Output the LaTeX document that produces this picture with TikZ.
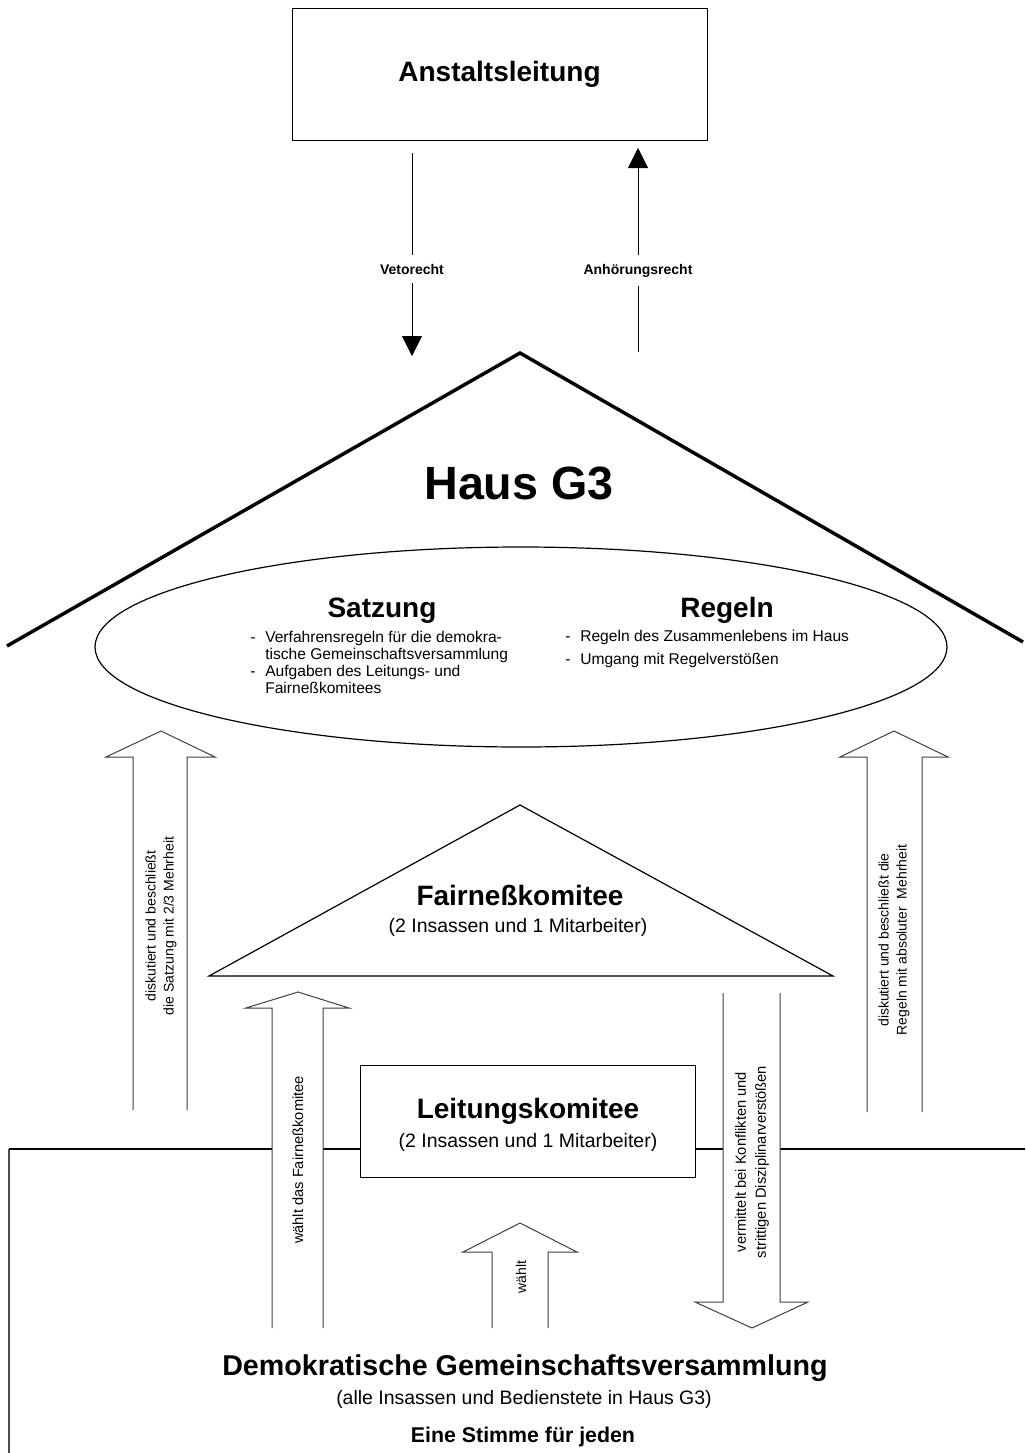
\documentclass[tikz,border=0pt]{standalone}
\usepackage{fontspec}
\setmainfont{Liberation Sans}
\usetikzlibrary{shapes.geometric,arrows.meta}
\begin{document}
\begin{tikzpicture}[x=0.75pt,y=-0.75pt,
  ttl/.style={font=\fontsize{21}{25}\selectfont\bfseries, inner sep=0},
  sub/.style={font=\fontsize{14.6}{17}\selectfont, inner sep=0},
  lst/.style={font=\fontsize{11.7}{12.75}\selectfont, inner sep=0, anchor=north west},
  vtx/.style={font=\fontsize{10.5}{13.5}\selectfont, rotate=90, align=center, inner sep=0},
  lab/.style={font=\fontsize{10.5}{12}\selectfont\bfseries, fill=white, inner xsep=2pt, inner ysep=6.5pt, anchor=base},
  thinline/.style={line width=0.75pt},
  thinarrow/.style={line width=0.75pt, -{Triangle[width=15pt,length=15pt]}},
  hollow/.style={draw=black!75, line width=0.75pt, line join=miter},
  boxnode/.style={draw, line width=0.75pt, fill=white, inner sep=0}
]
\useasboundingbox (0,0) rectangle (1025,1453);
\fill[white] (0,0) rectangle (1025,1453);

% Anstaltsleitung
\node[boxnode, minimum width=311.25pt, minimum height=99pt, font=\fontsize{21}{25}\selectfont\bfseries] (al) at (499.5,74) {Anstaltsleitung};

% Vetorecht / Anhoerungsrecht
\coordinate (v1) at (412,153);
\coordinate (v2) at (412,356);
\node[lab] (vl) at (412,274) {Vetorecht};
\draw[thinline] (v1) -- (vl);
\draw[thinarrow] (vl) -- (v2);
\coordinate (a1) at (638,352);
\coordinate (a2) at (638,148);
\node[lab] (alab) at (638,274) {Anhörungsrecht};
\draw[thinline] (a1) -- (alab);
\draw[thinarrow] (alab) -- (a2);

% Roof
\coordinate (rl) at (7,646);
\coordinate (ra) at (520,353);
\coordinate (rr) at (1023,642);
\draw[line width=2.6pt, line join=miter] (rl) -- (ra) -- (rr);
\node[font=\fontsize{35}{40}\selectfont\bfseries, inner sep=0, anchor=base] (haus) at (519,499) {Haus G3};

% Ellipse
\node[draw, ellipse, line width=0.9pt, minimum width=639pt, minimum height=150pt, inner sep=0] (el) at (521,647) {};
\node[ttl, anchor=base] (satz) at (382,617) {Satzung};
\node[lst] (satzl) at (250,630) {\begin{tabular}{@{}l@{}}
\makebox[11.25pt][l]{-}Verfahrensregeln für die demokra-\\
\makebox[11.25pt][l]{}tische Gemeinschaftsversammlung\\
\makebox[11.25pt][l]{-}Aufgaben des Leitungs- und\\
\makebox[11.25pt][l]{}Fairneßkomitees
\end{tabular}};
\node[ttl, anchor=base] (reg) at (727,617) {Regeln};
\node[lst] (regl) at (565,629) {\begin{tabular}{@{}l@{}}
\makebox[11.25pt][l]{-}Regeln des Zusammenlebens im Haus\\[4.5pt]
\makebox[11.25pt][l]{-}Umgang mit Regelverstößen
\end{tabular}};

% Fairnesskomitee triangle
\coordinate (tl) at (209,976);
\coordinate (ta) at (520,805);
\coordinate (tr) at (833,976);
\draw[line width=0.9pt, line join=miter] (tl) -- (ta) -- (tr) -- cycle;
\node[ttl, anchor=base] (fk) at (520,905) {Fairneßkomitee};
\node[sub, anchor=base] (fks) at (518,932) {(2 Insassen und 1 Mitarbeiter)};

% ground line and Leitungskomitee
\coordinate (gl) at (9,1149);
\coordinate (gb) at (9,1453);
\coordinate (gr) at (1025,1149);
\node[boxnode, minimum width=251.25pt, minimum height=84pt] (lk) at (527.5,1121) {};
\draw[black!70, line width=1.1pt] (gb) -- (gl);
\draw[line width=0.9pt] (gl) -- (gl -| lk.west);
\draw[line width=0.9pt] (lk.east |- gr) -- (gr);
\node[ttl, anchor=base] (lkt) at (528,1118) {Leitungskomitee};
\node[sub, anchor=base] (lks) at (528,1147) {(2 Insassen und 1 Mitarbeiter)};

% big left arrow
\fill[white] (133,1110) -- (133,757) -- (106,757) -- (161,731) -- (215,757) -- (187,757) -- (187,1110) -- cycle;
\draw[hollow] (133,1110) -- (133,757) -- (106,757) -- (161,731) -- (215,757) -- (187,757) -- (187,1110);
\node[vtx] (lt) at (161,926) {diskutiert und beschließt\\die Satzung mit 2/3 Mehrheit};

% big right arrow
\fill[white] (867,1112) -- (867,757) -- (840,757) -- (894,731) -- (948,757) -- (922,757) -- (922,1112) -- cycle;
\draw[hollow] (867,1112) -- (867,757) -- (840,757) -- (894,731) -- (948,757) -- (922,757) -- (922,1112);
\node[vtx] (rt) at (894,940) {diskutiert und beschließt die\\Regeln mit absoluter\ \ Mehrheit};

% waehlt das Fairnesskomitee
\fill[white] (272,1328) -- (272,1008) -- (246,1008) -- (298,992) -- (349,1008) -- (323,1008) -- (323,1328) -- cycle;
\draw[hollow] (272,1328) -- (272,1008) -- (246,1008) -- (298,992) -- (349,1008) -- (323,1008) -- (323,1328);
\node[vtx, font=\fontsize{11}{13.5}\selectfont] (ft) at (298,1160) {wählt das Fairneßkomitee};

% waehlt
\fill[white] (492,1328) -- (492,1252) -- (463,1252) -- (520,1223) -- (577,1252) -- (548,1252) -- (548,1328) -- cycle;
\draw[hollow] (492,1328) -- (492,1252) -- (463,1252) -- (520,1223) -- (577,1252) -- (548,1252) -- (548,1328);
\node[vtx] (wt) at (521,1277) {wählt};

% vermittelt (down)
\fill[white] (723,993) -- (723,1302) -- (695,1302) -- (752,1328) -- (808,1302) -- (780,1302) -- (780,993) -- cycle;
\draw[hollow] (723,993) -- (723,1302) -- (695,1302) -- (752,1328) -- (808,1302) -- (780,1302) -- (780,993);
\node[vtx, font=\fontsize{11}{15}\selectfont] (vt) at (752,1162) {vermittelt bei Konflikten und\\strittigen Disziplinarverstößen};

% bottom texts
\node[font=\fontsize{21.5}{25}\selectfont\bfseries, inner sep=0, anchor=base] (dg) at (525,1375) {Demokratische Gemeinschaftsversammlung};
\node[sub, anchor=base] (dgs) at (524,1404) {(alle Insassen und Bedienstete in Haus G3)};
\node[font=\fontsize{16}{20}\selectfont\bfseries, anchor=base, inner sep=0] (es) at (523,1442) {Eine Stimme für jeden};
\end{tikzpicture}
\end{document}
